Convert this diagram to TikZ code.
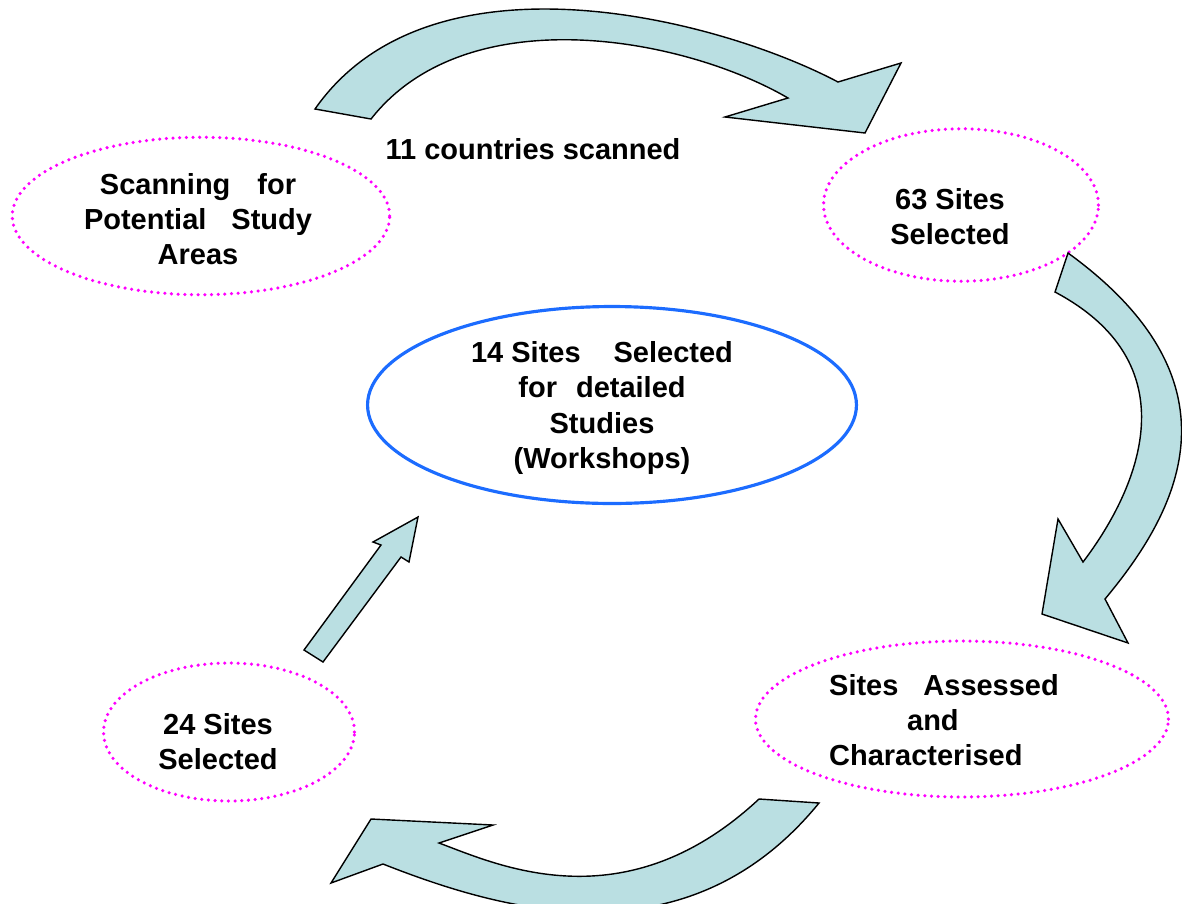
\documentclass[tikz,border=0pt]{standalone}
\usepackage{fontspec}
\setmainfont{Liberation Sans}
\usepackage{tikz}
\usetikzlibrary{shapes.geometric}

\definecolor{dotpink}{RGB}{255,0,255}
\definecolor{mainblue}{RGB}{28,108,255}
\definecolor{arrowfill}{RGB}{186,223,226}

\begin{document}
\begin{tikzpicture}[
    x=0.02cm, y=-0.02cm,
    font=\bfseries\fontsize{16.5}{20}\selectfont,
    sitebox/.style={
        ellipse, draw=dotpink, line width=2pt,
        dash pattern=on 0pt off 3.8pt, line cap=round,
        inner sep=0pt
    },
    mainbox/.style={
        ellipse, draw=mainblue, line width=1.8pt, inner sep=0pt
    },
    txtlabel/.style={align=center, inner sep=0pt},
    bigarrow/.style={draw=black, fill=arrowfill, line width=0.8pt, line join=miter},
]

\useasboundingbox (0,0) rectangle (1182,903);
\clip (0,0) rectangle (1182,903);

% ---- Stages (ellipses) ----
\node[sitebox, minimum width=7.55cm, minimum height=3.15cm] (scan) at (201,216) {};
\node[sitebox, minimum width=5.5cm, minimum height=3.05cm] (sel63) at (961,205) {};
\node[mainbox, minimum width=9.78cm, minimum height=3.94cm] (main) at (612,405) {};
\node[sitebox, minimum width=8.26cm, minimum height=3.12cm] (assess) at (962,719) {};
\node[sitebox, minimum width=5.02cm, minimum height=2.76cm] (sel24) at (229,732) {};

% ---- Texts ----
\node[txtlabel] (scantxt) at ([shift={(-3,3)}]scan.center)
    {Scanning\hspace{0.54cm}for\\Potential\hspace{0.5cm}Study\\Areas};
\node[txtlabel] (sel63txt) at ([shift={(-11,12)}]sel63.center) {63 Sites\\Selected};
\node[txtlabel] (maintxt) at ([shift={(-10,3)}]main.center)
    {14 Sites\hspace{0.66cm}Selected\\for\hspace{0.38cm}detailed\\Studies\\(Workshops)};
\node[txtlabel, align=left] (assesstxt) at ([shift={(-18,1)}]assess.center)
    {Sites\hspace{0.5cm}Assessed\\\hspace*{1.56cm}and\\Characterised};
\node[txtlabel] (sel24txt) at ([shift={(-11,10)}]sel24.center) {24 Sites\\Selected};

\node[txtlabel] (scanned) at (533,149) {11 countries scanned};

% ---- Block arrows ----
% top: scan -> 63 sites
\draw[bigarrow] (315,109) .. controls (431,-57) and (721,20) .. (838,82)
    -- (901,63) -- (865,133) -- (725,117) -- (788,98)
    .. controls (681,36) and (466,-2) .. (371,119) -- cycle;

% right: 63 sites -> assessed
\draw[bigarrow] (1068,253) .. controls (1250,385) and (1175,515) .. (1105,599)
    -- (1128,643) -- (1042,614) -- (1058,519) -- (1083,562)
    .. controls (1134,495) and (1196,367) .. (1055,292) -- cycle;

% bottom: assessed -> 24 sites
\draw[bigarrow] (759,799) -- (819,803)
    .. controls (686,966) and (500,910) .. (383,864)
    -- (331,883) -- (371,819) -- (493,825) -- (439,843)
    .. controls (496,864) and (624,925) .. (759,799) -- cycle;

% straight: 24 sites -> main
\draw[bigarrow] (304,650) -- (381,545) -- (373,542) -- (418,517)
    -- (409,562) -- (401,557) -- (323,662) -- cycle;

\end{tikzpicture}
\end{document}
